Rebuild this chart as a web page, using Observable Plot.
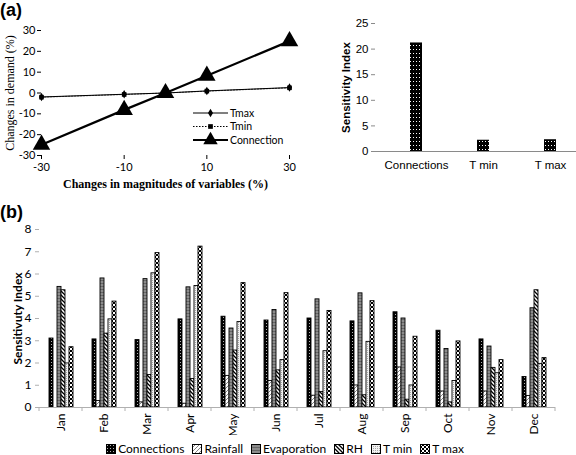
<!DOCTYPE html>
<html><head><meta charset="utf-8">
<script src="https://cdn.jsdelivr.net/npm/d3@7"></script>
<script src="https://cdn.jsdelivr.net/npm/@observablehq/plot@0.6"></script>
<style>
body{margin:0;background:#fff;}
#root{position:relative;width:576px;height:455px;overflow:hidden;background:#fff;font-family:Lato,sans-serif;}
.abs{position:absolute;}
.plabel{position:absolute;font-family:"Liberation Sans",Arial,sans-serif;font-weight:bold;font-size:18px;line-height:18px;}
#legB{position:absolute;left:0;top:441px;width:570px;display:flex;justify-content:center;align-items:center;font-family:Lato,sans-serif;font-size:12px;color:#000;}
#legB .it{display:flex;align-items:center;margin:0 4px;}
#legB svg{margin-right:2px;}
</style></head><body>
<svg width="0" height="0" style="position:absolute">
<defs>
<pattern id="pA" width="3" height="4" patternUnits="userSpaceOnUse"><rect width="3" height="4" fill="#000"/><rect x="1" y="1" width="1" height="1" fill="#fff"/></pattern>
<pattern id="pConn" width="3" height="3" patternUnits="userSpaceOnUse"><rect width="3" height="3" fill="#000"/><rect x="1" y="1" width="1" height="1" fill="#fff" opacity="0.7"/></pattern>
<pattern id="pRain" width="4" height="4" patternUnits="userSpaceOnUse"><rect width="4" height="4" fill="#fff"/><path d="M0,4 L4,0 M-1,1 L1,-1 M3,5 L5,3" stroke="#666" stroke-width="0.8"/></pattern>
<pattern id="pEvap" width="3" height="3" patternUnits="userSpaceOnUse"><rect width="3" height="3" fill="#8c8c8c"/><rect width="3" height="1" fill="#666"/></pattern>
<pattern id="pRH" width="4" height="4" patternUnits="userSpaceOnUse"><rect width="4" height="4" fill="#fff"/><path d="M0,0 L4,4 M-1,3 L1,5 M3,-1 L5,1" stroke="#000" stroke-width="1.3"/></pattern>
<pattern id="pTmin" width="2" height="2" patternUnits="userSpaceOnUse"><rect width="2" height="2" fill="#f2f2f2"/><rect width="1" height="1" fill="#a8a8a8"/></pattern>
<pattern id="pTmax" width="4" height="4" patternUnits="userSpaceOnUse"><rect width="4" height="4" fill="#000"/><rect width="2" height="2" fill="#fff"/><rect x="2" y="2" width="2" height="2" fill="#fff"/></pattern>
</defs></svg>
<div id="root">
  <div class="plabel" style="left:0;top:1px;">(a)</div>
  <div class="plabel" style="left:0;top:203px;">(b)</div>
</div>
<script>
// ---------------- Data ----------------
// Panel (a) left: changes in demand (%) vs changes in magnitudes of variables (%)
const changeLevels = [-30, -10, 0, 10, 30];
const demandTmax = [-1.9, -0.6, 0, 1.0, 2.6];
const demandTmin = [-2.0, -0.7, 0, 0.9, 2.5];
const demandConnection = [-24.8, -8.1, 0, 8.3, 24.9];
const demandTicksY = [-30, -20, -10, 0, 10, 20, 30];
const demandTicksX = [-30, -10, 10, 30];
const lineLegend = ["Tmax", "Tmin", "Connection"];

// Panel (a) right: sensitivity index
const overallVars = ["Connections", "T min", "T max"];
const overallIndex = [21.2, 2.2, 2.3];
const overallTicks = [0, 5, 10, 15, 20, 25];

// Panel (b): monthly sensitivity index
const months = ["Jan","Feb","Mar","Apr","May","Jun","Jul","Aug","Sep","Oct","Nov","Dec"];
const seriesNames = ["Connections","Rainfall","Evaporation","RH","T min","T max"];
const sConnections = [3.1, 3.06, 3.03, 3.96, 4.08, 3.91, 4.0, 3.87, 4.28, 3.45, 3.06, 1.37];
const sRainfall    = [0, 0.29, 0.23, 0.17, 1.42, 1.19, 0.53, 0.99, 1.8, 0.72, 0.72, 0.52];
const sEvaporation = [5.42, 5.8, 5.77, 5.4, 3.55, 4.38, 4.86, 5.13, 4.0, 2.63, 2.74, 4.46];
const sRH          = [5.27, 3.32, 1.46, 1.28, 2.56, 1.67, 0.7, 0.55, 0.35, 0.23, 1.78, 5.27];
const sTmin        = [1.98, 3.96, 6.03, 5.46, 3.84, 2.13, 2.53, 2.95, 0.99, 1.19, 1.54, 1.96];
const sTmax        = [2.71, 4.76, 6.94, 7.23, 5.59, 5.14, 4.34, 4.78, 3.18, 2.97, 2.13, 2.22];
const monthlyTicks = [0, 1, 2, 3, 4, 5, 6, 7, 8];
const seriesPatterns = ["url(#pConn)","url(#pRain)","url(#pEvap)","url(#pRH)","url(#pTmin)","url(#pTmax)"];

const root = document.getElementById("root");
function place(node, left, top) {
  node.style.position = "absolute"; node.style.left = left + "px"; node.style.top = top + "px";
  root.appendChild(node);
}

// ---------------- Panel (a) left ----------------
const rowsA = changeLevels.map((x, i) => ({x, tmax: demandTmax[i], tmin: demandTmin[i], conn: demandConnection[i]}));
const plotA1 = Plot.plot({
  width: 300, height: 200,
  marginLeft: 41, marginRight: 11, marginTop: 30, marginBottom: 45,
  style: {fontFamily: "Lato, sans-serif", fontSize: "11px", color: "#000", background: "transparent"},
  x: {domain: [-30, 30]},
  y: {domain: [-30, 30]},
  marks: [
    Plot.axisY({ticks: demandTicksY, tickSize: 4, tickPadding: 2, tickFormat: d => String(d), line: true,
      label: "Changes in demand (%)", labelAnchor: "center", labelArrow: "none", labelOffset: 36}),
    Plot.axisX({ticks: demandTicksX, tickSize: 4, tickPadding: 4, tickFormat: d => String(d), line: true,
      label: "Changes in magnitudes of variables (%)", labelAnchor: "center", labelArrow: "none", labelOffset: 32}),
    Plot.line(rowsA, {x: "x", y: "tmin", stroke: "#444", strokeWidth: 1, strokeDasharray: "1.5,1.5"}),
    Plot.line(rowsA, {x: "x", y: "tmax", stroke: "#000", strokeWidth: 1}),
    Plot.line(rowsA, {x: "x", y: "conn", stroke: "#000", strokeWidth: 2.2}),
    Plot.dot(rowsA, {x: "x", y: "tmin", symbol: "square", fill: "#000", r: 2.6}),
    Plot.dot(rowsA, {x: "x", y: "tmax", symbol: "diamond", fill: "#000", r: 2.6}),
    Plot.dot(rowsA, {x: "x", y: "conn", symbol: "triangle", fill: "#000", r: 6.5})
  ]
});
d3.select(plotA1).selectAll('g[aria-label="y-axis label"] text')
  .attr("font-family", "Liberation Serif, serif").attr("font-size", 12);
d3.select(plotA1).selectAll('g[aria-label="x-axis label"] text')
  .attr("font-family", "Liberation Serif, serif").attr("font-weight", "bold").attr("font-size", 12);
place(plotA1, 0, 0);

// legend of line chart
(function () {
  const svg = d3.create("svg").attr("width", 100).attr("height", 45)
    .style("font-family", "Lato, sans-serif").style("font-size", "10.5px");
  const rows = [
    {label: lineLegend[0], w: 1, dash: null, sym: d3.symbolDiamond, size: 22},
    {label: lineLegend[1], w: 1, dash: "1.5,1.5", sym: d3.symbolSquare, size: 22},
    {label: lineLegend[2], w: 2.2, dash: null, sym: d3.symbolTriangle, size: 90}
  ];
  rows.forEach((r, i) => {
    const y = 8 + i * 13.5;
    svg.append("line").attr("x1", 3).attr("x2", 38).attr("y1", y).attr("y2", y)
      .attr("stroke", "#000").attr("stroke-width", r.w).attr("stroke-dasharray", r.dash);
    svg.append("path").attr("d", d3.symbol(r.sym, r.size)()).attr("transform", `translate(20.5,${y})`).attr("fill", "#000");
    svg.append("text").attr("x", 40).attr("y", y).attr("dy", "0.35em").text(r.label);
  });
  place(svg.node(), 190, 105);
})();

// ---------------- Panel (a) right ----------------
const plotA2 = Plot.plot({
  width: 266, height: 185,
  marginLeft: 65, marginRight: 0, marginTop: 23, marginBottom: 34,
  style: {fontFamily: "Liberation Sans, Arial, sans-serif", fontSize: "11.5px", color: "#000", background: "transparent"},
  x: {domain: overallVars, paddingInner: 0.82, paddingOuter: 0.41, align: 0.63},
  y: {domain: [0, 25]},
  marks: [
    Plot.barY(overallIndex, {x: overallVars, y: overallIndex, fill: "url(#pA)"}),
    Plot.ruleY([0], {stroke: "#8a8a8a"}),
    Plot.axisY({ticks: overallTicks, tickSize: 4, tickPadding: 3, line: true, stroke: "#8a8a8a",
      label: "Sensitivity Index", labelAnchor: "center", labelArrow: "none", labelOffset: 34}),
    Plot.axisX({tickSize: 0, tickPadding: 9, label: null})
  ]
});
d3.select(plotA2).selectAll('g[aria-label="y-axis label"] text').attr("font-weight", "bold");
place(plotA2, 310, 0);

// ---------------- Panel (b) ----------------
const seriesData = [sConnections, sRainfall, sEvaporation, sRH, sTmin, sTmax];
const rowsB = months.flatMap((m, i) => seriesNames.map((s, j) => ({month: m, series: s, value: seriesData[j][i]})));
const plotB = Plot.plot({
  width: 576, height: 215,
  marginLeft: 37, marginRight: 19, marginTop: 9, marginBottom: 28,
  style: {fontFamily: "Lato, sans-serif", fontSize: "12px", color: "#000", background: "transparent"},
  fx: {domain: months, paddingInner: 0, paddingOuter: 0, label: null},
  x: {domain: seriesNames, paddingInner: 0, paddingOuter: 1.333, axis: null},
  y: {domain: [0, 8]},
  color: {domain: seriesNames, range: seriesPatterns},
  marks: [
    Plot.barY(rowsB, {fx: "month", x: "series", y: "value", fill: "series", stroke: "#000", strokeWidth: 0.9}),
    Plot.ruleY([0], {stroke: "#b0b0b0"}),
    Plot.axisY({ticks: monthlyTicks, tickSize: 4, tickPadding: 4, line: true, stroke: "#b0b0b0",
      label: "Sensitivuty Index", labelAnchor: "center", labelArrow: "none", labelOffset: 26}),
    Plot.axisFx({anchor: "bottom", tickRotate: -90, tickSize: 0, tickPadding: 6, label: null})
  ]
});
d3.select(plotB).selectAll('g[aria-label="y-axis label"] text').attr("font-weight", "bold");
// category tick marks at facet boundaries
(function () {
  const fx = plotB.scale("fx");
  const ys = plotB.scale("y");
  const y0 = ys.apply(0);
  const edges = months.map(m => fx.apply(m)).concat([fx.apply(months[months.length - 1]) + fx.bandwidth]);
  const g = d3.select(plotB).append("g").attr("stroke", "#b0b0b0");
  edges.forEach(e => g.append("line").attr("x1", e).attr("x2", e).attr("y1", y0).attr("y2", y0 + 4));
})();
place(plotB, 0, 220);

// legend for panel (b)
(function () {
  const leg = document.createElement("div");
  leg.id = "legB";
  seriesNames.forEach((s, j) => {
    const it = document.createElement("div"); it.className = "it";
    const sw = d3.create("svg").attr("width", 10).attr("height", 10);
    sw.append("rect").attr("x", 0.5).attr("y", 0.5).attr("width", 9).attr("height", 9)
      .attr("fill", seriesPatterns[j]).attr("stroke", "#000");
    it.appendChild(sw.node());
    const t = document.createElement("span"); t.textContent = s; it.appendChild(t);
    leg.appendChild(it);
  });
  root.appendChild(leg);
})();
</script>
</body></html>
